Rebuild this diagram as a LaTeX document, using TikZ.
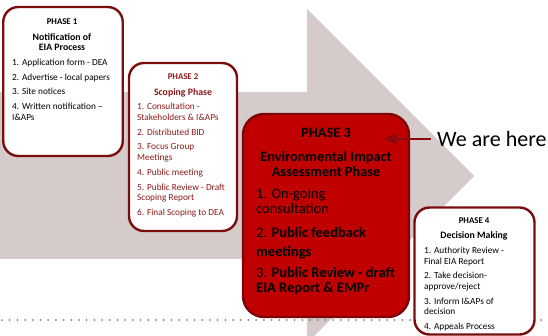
\documentclass[tikz,border=0pt]{standalone}
\usepackage{fontspec}
\setmainfont{Carlito}
\usetikzlibrary{arrows.meta}
\definecolor{greyarrow}{RGB}{213,203,203}
\definecolor{boxborder}{RGB}{122,14,14}
\definecolor{phthree}{RGB}{192,0,0}
\definecolor{phthreeborder}{RGB}{125,5,5}
\definecolor{phtwotext}{RGB}{140,26,26}
\definecolor{dotcol}{RGB}{176,105,105}
\definecolor{pointer}{RGB}{140,10,10}
\tikzset{
  phbox/.style={draw=boxborder, fill=white, line width=2.4pt, rounded corners=15pt, inner sep=0pt},
  bigbox/.style={draw=phthreeborder, fill=phthree, line width=2.4pt, rounded corners=21pt, inner sep=0pt},
  ttl/.style={anchor=base, inner sep=0pt, font=\fontsize{8.8}{10}\selectfont\bfseries},
  sub/.style={anchor=base, inner sep=0pt, font=\fontsize{9.8}{11}\selectfont\bfseries},
  itm/.style={anchor=base west, inner sep=0pt, font=\fontsize{9.3}{11}\selectfont},
  bigttl/.style={anchor=base, inner sep=0pt, font=\fontsize{14.3}{16}\selectfont\bfseries},
  bigitm/.style={anchor=base west, inner sep=0pt, font=\fontsize{14.5}{17}\selectfont},
}
\begin{document}
\begin{tikzpicture}[x=1pt, y=-1pt]
\useasboundingbox (0,0) rectangle (548,336);
\clip (0,0) rectangle (548,336);
% big grey arrow
\fill[greyarrow] (0,92) -- (307,92) -- (307,9) -- (474,176) -- (307,343) -- (307,259) -- (0,259) -- cycle;
% dotted line
\coordinate (dl) at (2,320);
\coordinate (dr) at (548,320);
\draw[dotcol, line width=2pt, line cap=round, dash pattern=on 0pt off 7.7pt] (dl) -- (dr);

% Phase 1
\node[phbox, minimum width=119.5pt, minimum height=149pt] (ph1) at (63,81.5) {};
\node[ttl] (p1t) at (62,25) {PHASE 1};
\node[sub] (p1s1) at (62,40.5) {Notification of};
\node[sub] (p1s2) at (62,50.5) {EIA Process};
\foreach \t/\y [count=\i] in {{1. Application form - DEA}/65.5, {2. Advertise - local papers}/80.5, {3. Site notices}/94.5, {4. Written notification –}/109.5, {I\&APs}/120.5}
  \node[itm] (p1i\i) at (12,\y) {\t};

% Phase 2
\node[phbox, minimum width=108pt, minimum height=168pt] (ph2) at (183,147) {};
\node[ttl, text=phtwotext] (p2t) at (183,80) {PHASE 2};
\node[sub, text=phtwotext] (p2s) at (183,95.5) {Scoping Phase};
\foreach \t/\y [count=\i] in {{1. Consultation -}/109.5, {Stakeholders \& I\&APs}/120.5, {2. Distributed BID}/135.5, {3. Focus Group}/149.5, {Meetings}/160.5, {4. Public meeting}/175.5, {5. Public Review - Draft}/190.5, {Scoping Report}/200.5, {6. Final Scoping to DEA}/215.5}
  \node[itm, text=phtwotext] (p2i\i) at (137,\y) {\t};

% Phase 3
\node[bigbox, minimum width=166pt, minimum height=203pt] (ph3) at (326,215.5) {};
\node[bigttl] (p3t) at (326,138) {PHASE 3};
\node[bigttl] (p3s1) at (326,162) {Environmental Impact};
\node[bigttl] (p3s2) at (326,177) {Assessment Phase};
\node[bigitm] (p3i1) at (256,199) {1. On-going};
\node[bigitm] (p3i2) at (256,214) {consultation};
\node[bigitm] (p3i3) at (256,238) {2. \textbf{Public feedback}};
\node[bigitm] (p3i4) at (256,257) {\textbf{meetings}};
\node[bigitm] (p3i5) at (256,277) {3. \textbf{Public Review - draft}};
\node[bigitm] (p3i6) at (256,292) {\textbf{EIA Report \& EMPr}};

% Phase 4
\node[phbox, minimum width=120pt, minimum height=127pt] (ph4) at (474.5,271) {};
\node[ttl] (p4t) at (474,224) {PHASE 4};
\node[sub] (p4s) at (474,238.5) {Decision Making};
\foreach \t/\y [count=\i] in {{1. Authority Review -}/253.5, {Final EIA Report}/264.5, {2. Take decision-}/278.5, {approve/reject}/289.5, {3. Inform I\&APs of}/304.5, {decision}/314.5, {4. Appeals Process}/329.5}
  \node[itm] (p4i\i) at (424,\y) {\t};

% We are here
\node[anchor=base west, inner sep=0pt, font=\fontsize{22}{26}\selectfont] (here) at (437,147) {We are here};
\coordinate (tip) at (384,139);
\draw[pointer, line width=2pt, -{Triangle[length=13pt, width=11pt]}] (here.west |- tip) ++(-6,0) -- (tip);
\end{tikzpicture}
\end{document}
